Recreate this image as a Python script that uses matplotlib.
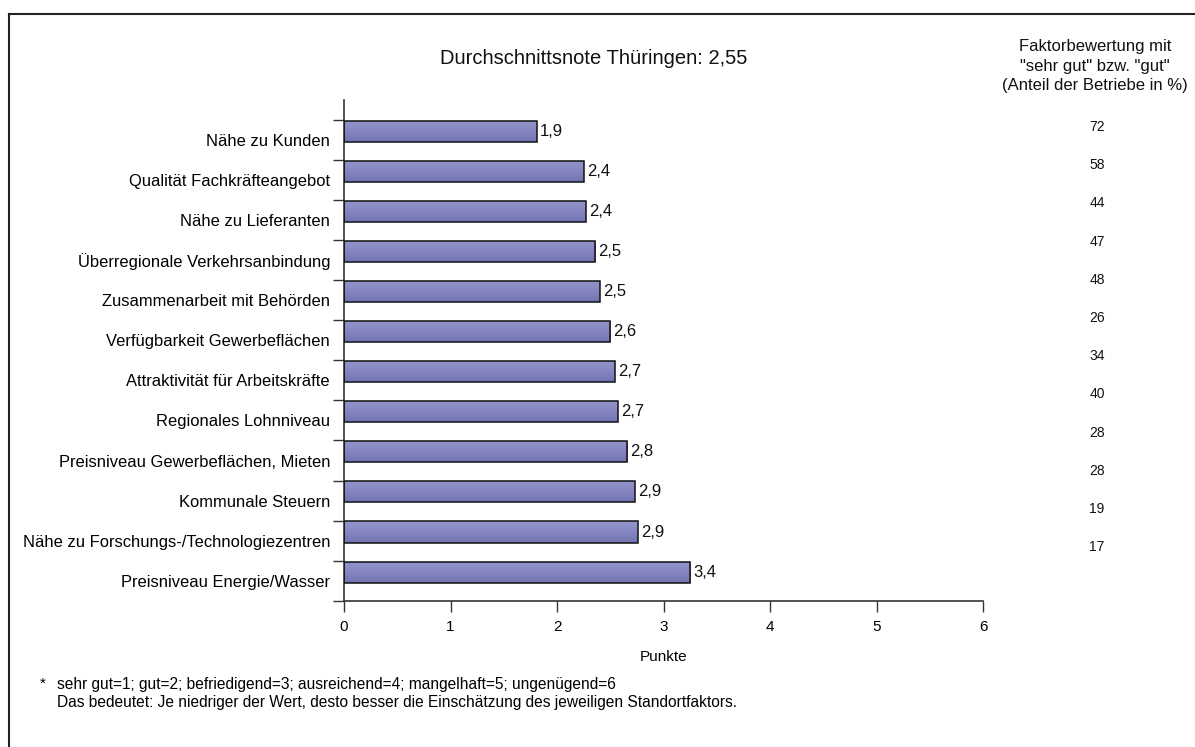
import matplotlib
matplotlib.use("Agg")
import matplotlib.pyplot as plt
import matplotlib.font_manager as fm
from matplotlib.lines import Line2D
from matplotlib.colors import LinearSegmentedColormap
import numpy as np

# ---------------- data ----------------
categories = [
    "Nähe zu Kunden",
    "Qualität Fachkräfteangebot",
    "Nähe zu Lieferanten",
    "Überregionale Verkehrsanbindung",
    "Zusammenarbeit mit Behörden",
    "Verfügbarkeit Gewerbeflächen",
    "Attraktivität für Arbeitskräfte",
    "Regionales Lohnniveau",
    "Preisniveau Gewerbeflächen, Mieten",
    "Kommunale Steuern",
    "Nähe zu Forschungs-/Technologiezentren",
    "Preisniveau Energie/Wasser",
]
bar_lengths = [1.81, 2.25, 2.27, 2.36, 2.40, 2.50, 2.54, 2.57, 2.66, 2.73, 2.76, 3.25]
value_labels = ["1,9", "2,4", "2,4", "2,5", "2,5", "2,6", "2,7", "2,7", "2,8", "2,9", "2,9", "3,4"]
share_good = [72, 58, 44, 47, 48, 26, 34, 40, 28, 28, 19, 17]
x_ticks = [0, 1, 2, 3, 4, 5, 6]

title = "Durchschnittsnote Thüringen: 2,55"
right_header = 'Faktorbewertung mit\n"sehr gut" bzw. "gut"\n(Anteil der Betriebe in %)'
x_label = "Punkte"
foot1 = "sehr gut=1; gut=2; befriedigend=3; ausreichend=4; mangelhaft=5; ungenügend=6"
foot2 = "Das bedeutet: Je niedriger der Wert, desto besser die Einschätzung des jeweiligen Standortfaktors."

# ---------------- fonts ----------------
names = {f.name for f in fm.fontManager.ttflist}
SANS = ["Liberation Sans", "DejaVu Sans"]
NARROW = ["Liberation Sans Narrow", "Liberation Sans", "DejaVu Sans"] if "Liberation Sans Narrow" in names else SANS
plt.rcParams["font.family"] = SANS

W, H = 1195, 747
fig = plt.figure(figsize=(W / 100, H / 100), dpi=100)
fig.patch.set_facecolor("white")

def fx(px):
    return px / W

def fy(py):
    return 1 - py / H

# axes: left spine x=344, right 983, top y=100, bottom y=600.7
ax = fig.add_axes([fx(344), fy(600.7), fx(983) - fx(344), fy(100) - fy(600.7)])

n = len(categories)
pos = np.arange(n)
bar_h = 0.525
bar_offset = -0.215

bars = ax.barh(pos + bar_offset, bar_lengths, height=bar_h, color="#8686C4",
               edgecolor="#111111", linewidth=1.1, zorder=2)

# subtle vertical gradient inside bars
grad = np.linspace(0, 1, 50).reshape(-1, 1)
cmap = LinearSegmentedColormap.from_list("g", ["#9696CE", "#7474B4"])
for b in bars:
    x0, y0 = b.get_x(), b.get_y()
    w, h = b.get_width(), b.get_height()
    im = ax.imshow(grad, extent=(x0, x0 + w, y0 + h, y0), cmap=cmap, aspect="auto",
                   zorder=2.5, origin="upper")
    im.set_clip_path(b)
for b in bars:
    b.set_facecolor("none")
    b.set_zorder(3)

for p, L, lab in zip(pos, bar_lengths, value_labels):
    ax.text(L + 0.03, p + bar_offset, lab, va="center", ha="left", fontsize=12, color="#111111")

ax.set_xlim(0, 6)
ax.set_ylim(n - 0.5, -1.0)
ax.set_xticks(x_ticks)
ax.set_xticklabels([str(t) for t in x_ticks], fontsize=11, family=NARROW)
ax.tick_params(axis="x", direction="out", length=8, width=1, pad=6, color="#333333")

# boundaries as ticks, category labels as zero-length minor ticks
ax.set_yticks(np.arange(-0.5, n, 1.0))
ax.set_yticklabels([])
ax.tick_params(axis="y", which="major", direction="out", length=8, width=1, color="#333333")
ax.set_yticks(pos, minor=True)
ax.set_yticklabels(categories, minor=True, fontsize=11.9)
ax.tick_params(axis="y", which="minor", length=0, pad=10)

for s in ["top", "right"]:
    ax.spines[s].set_visible(False)
for s in ["left", "bottom"]:
    ax.spines[s].set_color("#333333")
    ax.spines[s].set_linewidth(1.2)

# texts
fig.text(fx(594), fy(58), title, ha="center", va="center", fontsize=14.5, color="#111111")
fig.text(fx(1095), fy(66), right_header, ha="center", va="center", fontsize=12,
         linespacing=1.4, color="#111111")
y0, step = 127, 38.2
for i, v in enumerate(share_good):
    fig.text(fx(1097), fy(y0 + i * step), str(v), ha="center", va="center",
             fontsize=10, color="#111111")
fig.text(fx(664), fy(657), x_label, ha="center", va="center", fontsize=11, family=NARROW)
fig.text(fx(40), fy(684), "*", ha="left", va="center", fontsize=11, family=NARROW)
fig.text(fx(57), fy(685), foot1, ha="left", va="center", fontsize=11.2, family=NARROW)
fig.text(fx(57), fy(703), foot2, ha="left", va="center", fontsize=11.2, family=NARROW)

# frame (left and top lines only)
fig.add_artist(Line2D([fx(9), fx(9)], [fy(14), 0], transform=fig.transFigure,
                      color="#222222", linewidth=1.5))
fig.add_artist(Line2D([fx(9), 1], [fy(14), fy(14)], transform=fig.transFigure,
                      color="#222222", linewidth=1.5))

fig.savefig("out.png", dpi=100)
